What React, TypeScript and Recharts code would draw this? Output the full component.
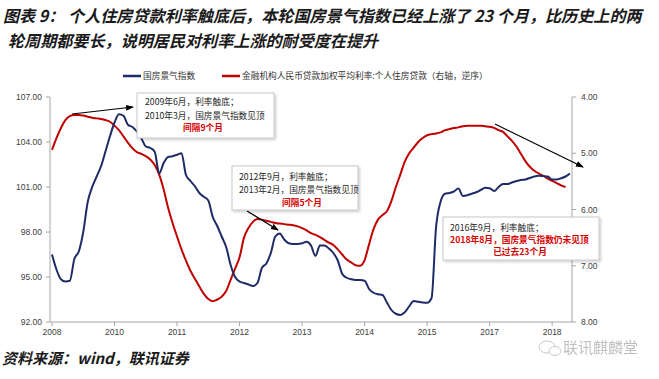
import React from "react";
import { LineChart, Line, XAxis, YAxis } from "recharts";

const months = [
  "2008-12",
  "2009-01","2009-02","2009-03","2009-04","2009-05","2009-06","2009-07","2009-08","2009-09","2009-10","2009-11","2009-12",
  "2010-01","2010-02","2010-03","2010-04","2010-05","2010-06","2010-07","2010-08","2010-09","2010-10","2010-11","2010-12",
  "2011-01","2011-02","2011-03","2011-04","2011-05","2011-06","2011-07","2011-08","2011-09","2011-10","2011-11","2011-12",
  "2012-01","2012-02","2012-03","2012-04","2012-05","2012-06","2012-07","2012-08","2012-09","2012-10","2012-11","2012-12",
  "2013-01","2013-02","2013-03","2013-04","2013-05","2013-06","2013-07","2013-08","2013-09","2013-10","2013-11","2013-12",
  "2014-01","2014-02","2014-03","2014-04","2014-05","2014-06","2014-07","2014-08","2014-09","2014-10","2014-11","2014-12",
  "2015-01","2015-02","2015-03","2015-04","2015-05","2015-06","2015-07","2015-08","2015-09","2015-10","2015-11","2015-12",
  "2016-01","2016-02","2016-03","2016-04","2016-05","2016-06","2016-07","2016-08","2016-09","2016-10","2016-11","2016-12",
  "2017-01","2017-02","2017-03","2017-04","2017-05","2017-06","2017-07","2017-08","2017-09","2017-10","2017-11","2017-12",
  "2018-01","2018-02","2018-03","2018-04","2018-05","2018-06","2018-07","2018-08",
];

// 国房景气指数 (left axis)
const housingIndex = [
  96.5,
  95.5, 94.85, 94.7, 94.75, 96.2, 96.7, 98.0, 100.0, 101.0, 101.7, 102.4, 103.4,
  104.4, 105.3, 105.85, 105.75, 105.15, 105.0, 104.7, 104.25, 103.7, 103.6, 103.35, 101.9,
  102.6, 103.0, 103.05, 103.15, 103.25, 101.8, 101.4, 101.05, 100.6, 100.35, 100.1, 99.0,
  98.4, 97.7, 97.0, 95.8, 95.0, 94.7, 94.6, 94.5, 94.4, 94.6, 95.6, 95.9,
  96.6, 97.7, 97.9, 97.5, 97.25, 97.2, 97.2, 97.25, 97.35, 97.1, 96.4, 97.1,
  97.1, 96.9, 96.6, 96.1, 95.2, 94.95, 94.85, 94.8, 94.8, 94.75, 94.2, 93.95,
  93.85, 93.8, 93.3, 92.8, 92.55, 92.47, 92.65, 93.05, 93.4, 93.35, 93.3, 93.28,
  93.6, 98.3, 100.0, 100.55, 100.6, 100.7, 100.9, 100.4, 100.45, 100.55, 100.65, 100.8,
  100.95, 100.92, 100.73, 101.0, 101.2, 101.2, 101.3, 101.4, 101.47, 101.5, 101.6, 101.7,
  101.75, 101.73, 101.7, 101.5, 101.5, 101.58, 101.7, 101.9,
];

// 金融机构人民币贷款加权平均利率:个人住房贷款 (right axis, reversed)
const mortgageRate: (number | null)[] = [
  4.94,
  4.73, 4.55, 4.41, 4.34, 4.32, 4.32, 4.33, 4.35, 4.37, 4.38, 4.39, 4.41,
  4.44, 4.51, 4.59, 4.70, 4.81, 4.91, 4.98, 5.01, 5.05, 5.11, 5.21, 5.38,
  5.64, 5.97, 6.24, 6.48, 6.71, 6.91, 7.09, 7.23, 7.37, 7.5, 7.59, 7.63,
  7.60, 7.55, 7.45, 7.25, 7.05, 6.85, 6.5, 6.33, 6.22, 6.17, 6.18, 6.2,
  6.22, 6.24, 6.25, 6.26, 6.27, 6.28, 6.3, 6.33, 6.37, 6.42, 6.45, 6.49,
  6.54, 6.59, 6.63, 6.71, 6.80, 6.89, 6.94, 6.99, 7.0, 6.9, 6.62, 6.35,
  6.18, 6.1, 6.03, 5.85, 5.6, 5.38, 5.15, 5.0, 4.9, 4.8, 4.73, 4.68,
  4.66, 4.65, 4.63, 4.59, 4.57, 4.55, 4.54, 4.52, 4.51, 4.51, 4.51, 4.51,
  4.52, 4.53, 4.55, 4.59, 4.62, 4.70, 4.78, 4.88, 5.01, 5.14, 5.24, 5.31,
  5.36, 5.4, 5.45, 5.49, 5.53, 5.57, 5.60, null,
];

const xTicks = ["2008-12", "2010-02", "2011-04", "2012-06", "2013-08", "2014-10", "2015-12", "2017-02", "2018-04"];
const leftTicks = [92, 95, 98, 101, 104, 107];
const rightTicks = [4, 5, 6, 7, 8];

const seriesNames = ["国房景气指数", "金融机构人民币贷款加权平均利率:个人住房贷款（右轴，逆序）"];

const data = months.map((m, i) => ({ month: m, idx: housingIndex[i], rate: mortgageRate[i] }));

const CJK = "'Noto Sans CJK SC', 'Noto Sans', sans-serif";
const tickStyle = { fill: "#404040", fontSize: 8.5, fontFamily: "'Liberation Sans', Arial, sans-serif" };
const BLUE = "#1f2b66";
const RED = "#c00000";
const ANN_RED = "#d40000";

export default function App() {
  return (
    <div style={{ position: "absolute", left: 0, top: 0, width: 659, height: 379, background: "#fff", overflow: "hidden" }}>
      <LineChart width={659} height={379} data={data} margin={{ top: 97, right: 52, bottom: 27, left: 10 }}>
        <XAxis
          dataKey="month"
          ticks={xTicks}
          interval={0}
          tickFormatter={(v: string) => String(v).slice(0, 4)}
          padding={{ left: 2, right: 2 }}
          height={30}
          tickSize={4}
          tickMargin={3}
          stroke="#a6a6a6"
          tick={tickStyle}
        />
        <YAxis
          yAxisId="left"
          domain={[92, 107]}
          ticks={leftTicks}
          width={40}
          tickSize={4}
          tickMargin={4}
          stroke="#a6a6a6"
          tick={tickStyle}
          tickFormatter={(v: number) => v.toFixed(2)}
          allowDataOverflow
        />
        <YAxis
          yAxisId="right"
          orientation="right"
          reversed
          domain={[4, 8]}
          ticks={rightTicks}
          width={35}
          tickSize={4}
          tickMargin={5}
          stroke="#a6a6a6"
          tick={tickStyle}
          tickFormatter={(v: number) => v.toFixed(2)}
          allowDataOverflow
        />
        <Line yAxisId="right" dataKey="rate" type="monotone" stroke={RED} strokeWidth={2} dot={false} isAnimationActive={false} />
        <Line yAxisId="left" dataKey="idx" type="monotone" stroke={BLUE} strokeWidth={2} dot={false} isAnimationActive={false} />
      </LineChart>

      <svg width={659} height={379} style={{ position: "absolute", left: 0, top: 0, pointerEvents: "none" }}>
        <defs>
          <marker id="ah" markerWidth="8" markerHeight="8" refX="7" refY="4" orient="auto" markerUnits="userSpaceOnUse">
            <path d="M0,1 L8,4 L0,7 z" fill="#000" />
          </marker>
          <filter id="sh" x="-10%" y="-10%" width="130%" height="140%">
            <feDropShadow dx="1.5" dy="1.5" stdDeviation="1" floodColor="#000" floodOpacity="0.2" />
          </filter>
        </defs>

        {/* Title */}
        <text x={3} y={22} fontFamily={CJK} fontSize={16.1} fontWeight="bold" fontStyle="italic" fill="#1a1a1a">
          图表 9： 个人住房贷款利率触底后，本轮国房景气指数已经上涨了 23 个月，比历史上的两
        </text>
        <text x={8} y={47} fontFamily={CJK} fontSize={16.1} fontWeight="bold" fontStyle="italic" fill="#1a1a1a">
          轮周期都要长，说明居民对利率上涨的耐受度在提升
        </text>

        {/* Legend */}
        <line x1={123} y1={76} x2={141} y2={76} stroke={BLUE} strokeWidth={2.5} />
        <text x={143} y={79} fontFamily={CJK} fontSize={8.7} fill="#333">{seriesNames[0]}</text>
        <line x1={222} y1={76} x2={240} y2={76} stroke={RED} strokeWidth={2.5} />
        <text x={242} y={79} fontFamily={CJK} fontSize={8.7} fill="#333">{seriesNames[1]}</text>

        {/* Arrows */}
        <line x1={72} y1={114} x2={133} y2={107} stroke="#000" strokeWidth={1.2} markerEnd="url(#ah)" />
        <line x1={247} y1={211} x2={278} y2={230} stroke="#000" strokeWidth={1.2} markerEnd="url(#ah)" />
        <line x1={495} y1={124} x2={583} y2={167} stroke="#000" strokeWidth={1.2} markerEnd="url(#ah)" />

        {/* Annotation 1 */}
        <rect x={137} y={93} width={137} height={45} fill="#fff" stroke="#c8c8c8" strokeWidth={1} filter="url(#sh)" />
        <text x={145} y={105} fontFamily={CJK} fontSize={8.7} fill="#262626">2009年6月，利率触底；</text>
        <text x={145} y={119} fontFamily={CJK} fontSize={8.7} fill="#262626">2010年3月，国房景气指数见顶</text>
        <text x={203} y={131} textAnchor="middle" fontFamily={CJK} fontSize={8.7} fontWeight="bold" fill={ANN_RED}>间隔9个月</text>

        {/* Annotation 2 */}
        <rect x={232} y={166} width={126} height={44} fill="#fff" stroke="#c8c8c8" strokeWidth={1} filter="url(#sh)" />
        <text x={239} y={180} fontFamily={CJK} fontSize={8.7} fill="#262626">2012年9月，利率触底；</text>
        <text x={239} y={193} fontFamily={CJK} fontSize={8.7} fill="#262626">2013年2月，国房景气指数见顶</text>
        <text x={302} y={206} textAnchor="middle" fontFamily={CJK} fontSize={8.7} fontWeight="bold" fill={ANN_RED}>间隔5个月</text>

        {/* Annotation 3 */}
        <rect x={443} y={217} width={156} height={43} fill="#fff" stroke="#c8c8c8" strokeWidth={1} filter="url(#sh)" />
        <text x={450} y={230.5} fontFamily={CJK} fontSize={8.7} fill="#262626">2016年9月，利率触底；</text>
        <text x={450} y={242.5} fontFamily={CJK} fontSize={8.7} fontWeight="bold" fill={ANN_RED}>2018年8月，国房景气指数仍未见顶</text>
        <text x={520} y={254.5} textAnchor="middle" fontFamily={CJK} fontSize={8.7} fontWeight="bold" fill={ANN_RED}>已过去23个月</text>

        {/* Source */}
        <text x={2} y={364} fontFamily={CJK} fontSize={15} fontWeight="bold" fontStyle="italic" fill="#1a1a1a">
          资料来源：wind，联讯证券
        </text>

        {/* Watermark */}
        <g opacity={0.55}>
          <ellipse cx={547} cy={347} rx={8} ry={6} fill="none" stroke="#9a9a9a" strokeWidth={1} />
          <ellipse cx={555} cy={351} rx={6} ry={4.5} fill="#fff" stroke="#9a9a9a" strokeWidth={1} />
          <text x={563} y={353} fontFamily={CJK} fontSize={15} fill="#8a8a8a">联讯麒麟堂</text>
        </g>
      </svg>
    </div>
  );
}
